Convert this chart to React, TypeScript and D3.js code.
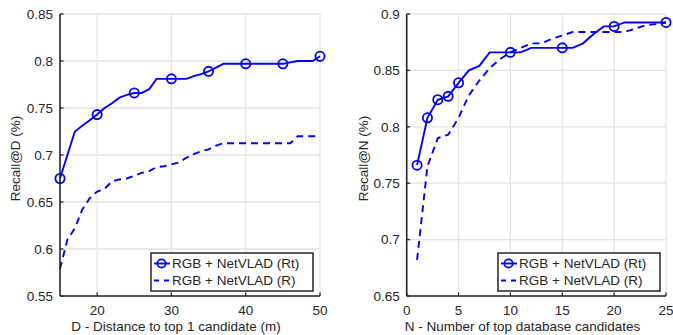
import React, { useEffect } from "react";
import * as d3 from "d3";

const distD = [15,16,17,18,19,20,21,22,23,24,25,26,27,28,29,30,31,32,33,34,35,36,37,38,39,40,41,42,43,44,45,46,47,48,49,50];
const recallDRt = [0.675,0.700,0.725,0.731,0.737,0.743,0.750,0.755,0.761,0.764,0.766,0.766,0.770,0.781,0.781,0.781,0.781,0.781,0.784,0.786,0.789,0.793,0.797,0.797,0.797,0.797,0.797,0.797,0.797,0.797,0.797,0.7985,0.800,0.800,0.800,0.805];
const recallDR = [0.579,0.610,0.622,0.642,0.654,0.661,0.664,0.672,0.674,0.675,0.678,0.681,0.683,0.687,0.688,0.690,0.692,0.697,0.701,0.704,0.706,0.710,0.7125,0.7125,0.7125,0.7125,0.7125,0.7125,0.7125,0.7125,0.7125,0.7125,0.720,0.720,0.720,0.720];
const markersD = [15,20,25,30,35,40,45,50];

const numN = [1,2,3,4,5,6,7,8,9,10,11,12,13,14,15,16,17,18,19,20,21,22,23,24,25];
const recallNRt = [0.766,0.808,0.824,0.827,0.839,0.850,0.854,0.866,0.866,0.866,0.866,0.870,0.870,0.870,0.870,0.870,0.874,0.882,0.889,0.889,0.8925,0.8925,0.8925,0.8925,0.8925];
const recallNR = [0.682,0.765,0.790,0.793,0.808,0.828,0.841,0.852,0.860,0.866,0.870,0.874,0.874,0.878,0.881,0.884,0.884,0.884,0.884,0.884,0.884,0.887,0.890,0.891,0.8925];
const markersN = [1,2,3,4,5,10,15,20,25];

const xTicksD = [20,30,40,50];
const yTicksD = [0.55,0.6,0.65,0.7,0.75,0.8,0.85];
const xTicksN = [0,5,10,15,20,25];
const yTicksN = [0.65,0.7,0.75,0.8,0.85,0.9];

const legendLabels = ["RGB + NetVLAD (Rt)", "RGB + NetVLAD (R)"];

const BLUE = "#0000ff";
const GRID = "#e3e3e3";
const AXIS = "#262626";
const FONT = "'Liberation Sans', Arial, Helvetica, sans-serif";
const FS = 13.5;

type PanelProps = {
  xs: number[]; ySolid: number[]; yDash: number[]; markers: number[];
  xDomain: [number, number]; yDomain: [number, number];
  xRange: [number, number]; yRange: [number, number];
  xTicks: number[]; yTicks: number[];
  xLabel: string; yLabel: string; xLabelX: number; yLabelX: number;
  legend: { x: number; y: number; w: number; h: number };
};

function Panel(p: PanelProps) {
  const x = d3.scaleLinear().domain(p.xDomain).range(p.xRange);
  const y = d3.scaleLinear().domain(p.yDomain).range(p.yRange);
  const line = d3.line<number>().x((_, i) => x(p.xs[i])).y((v) => y(v));
  const [x0, x1] = p.xRange;
  const [y0, y1] = p.yRange;
  const fmt = (v: number) => String(+v.toFixed(2));
  const lg = p.legend;
  const r1 = lg.y + 10.5;
  const r2 = lg.y + 27.5;
  return (
    <g>
      {p.xTicks.map((t) => (
        <line key={"gx" + t} x1={x(t)} x2={x(t)} y1={y0} y2={y1} stroke={GRID} strokeWidth={1.3} />
      ))}
      {p.yTicks.map((t) => (
        <line key={"gy" + t} x1={x0} x2={x1} y1={y(t)} y2={y(t)} stroke={GRID} strokeWidth={1.3} />
      ))}
      <path d={line(p.yDash) || ""} fill="none" stroke={BLUE} strokeWidth={1.9} strokeDasharray="7,5" />
      <path d={line(p.ySolid) || ""} fill="none" stroke={BLUE} strokeWidth={1.9} />
      {p.markers.map((m) => {
        const i = p.xs.indexOf(m);
        return <circle key={"m" + m} cx={x(m)} cy={y(p.ySolid[i])} r={4.6} fill="none" stroke={BLUE} strokeWidth={1.8} />;
      })}
      <line x1={x0} x2={x0} y1={y0} y2={y1} stroke={AXIS} strokeWidth={1.6} />
      <line x1={x0} x2={x1} y1={y0} y2={y0} stroke={AXIS} strokeWidth={1.6} />
      {p.yTicks.map((t) => (
        <g key={"ty" + t}>
          <line x1={x0} x2={x0 + 3.5} y1={y(t)} y2={y(t)} stroke={AXIS} strokeWidth={1.3} />
          <text x={x0 - 7} y={y(t) + 4.7} textAnchor="end" fontSize={FS} fill={AXIS}>{fmt(t)}</text>
        </g>
      ))}
      {p.xTicks.map((t) => (
        <g key={"tx" + t}>
          <line x1={x(t)} x2={x(t)} y1={y0} y2={y0 - 3.5} stroke={AXIS} strokeWidth={1.3} />
          <text x={x(t)} y={y0 + 18.5} textAnchor="middle" fontSize={FS} fill={AXIS}>{fmt(t)}</text>
        </g>
      ))}
      <text x={p.xLabelX} y={331} textAnchor="middle" fontSize={FS} fill={AXIS}>{p.xLabel}</text>
      <text transform={`translate(${p.yLabelX},${158.5}) rotate(-90)`} textAnchor="middle" fontSize={FS} fill={AXIS}>{p.yLabel}</text>
      <rect x={lg.x} y={lg.y} width={lg.w} height={lg.h} fill="#ffffff" stroke={AXIS} strokeWidth={1.5} />
      <line x1={lg.x + 3} x2={lg.x + 19} y1={r1} y2={r1} stroke={BLUE} strokeWidth={1.9} />
      <circle cx={lg.x + 10.5} cy={r1} r={4.2} fill="none" stroke={BLUE} strokeWidth={1.8} />
      <line x1={lg.x + 3} x2={lg.x + 20} y1={r2} y2={r2} stroke={BLUE} strokeWidth={1.9} strokeDasharray="5,5" />
      <text x={lg.x + 21} y={r1 + 4.7} fontSize={FS} fill={AXIS}>{legendLabels[0]}</text>
      <text x={lg.x + 21} y={r2 + 4.7} fontSize={FS} fill={AXIS}>{legendLabels[1]}</text>
    </g>
  );
}

export default function App() {
  useEffect(() => {
    document.body.style.margin = "0";
  }, []);
  return (
    <svg width={673} height={335} style={{ display: "block", fontFamily: FONT, background: "#fff" }}>
      <Panel
        xs={distD} ySolid={recallDRt} yDash={recallDR} markers={markersD}
        xDomain={[15, 50]} yDomain={[0.55, 0.85]} xRange={[60, 320]} yRange={[296, 14]}
        xTicks={xTicksD} yTicks={yTicksD}
        xLabel="D - Distance to top 1 candidate (m)" yLabel="Recall@D (%)" xLabelX={176} yLabelX={20}
        legend={{ x: 151, y: 253, w: 162, h: 38 }}
      />
      <Panel
        xs={numN} ySolid={recallNRt} yDash={recallNR} markers={markersN}
        xDomain={[0, 25]} yDomain={[0.65, 0.9]} xRange={[406.7, 666]} yRange={[296, 14]}
        xTicks={xTicksN} yTicks={yTicksN}
        xLabel="N - Number of top database candidates" yLabel="Recall@N (%)" xLabelX={522.5} yLabelX={368}
        legend={{ x: 498, y: 253, w: 162, h: 38 }}
      />
    </svg>
  );
}
